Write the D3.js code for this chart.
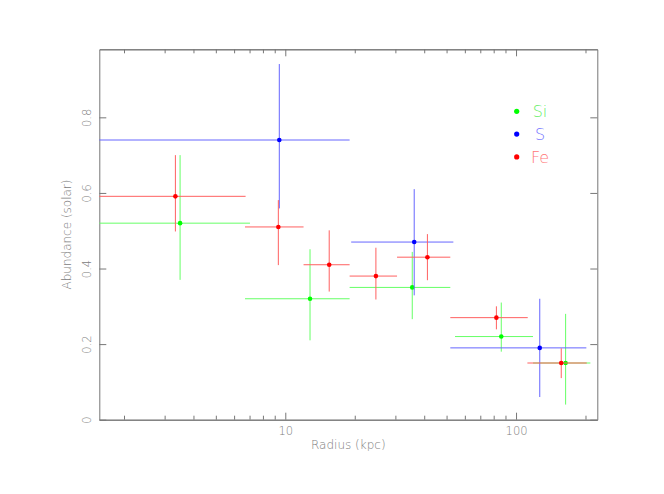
<!DOCTYPE html>
<html>
<head>
<meta charset="utf-8">
<script src="https://cdn.jsdelivr.net/npm/d3@7"></script>
<style>
  body { margin: 0; background: #fff; }
  svg text { font-family: "DejaVu Sans", sans-serif; font-weight: 200; }
</style>
</head>
<body>
<svg width="664" height="494"></svg>
<script>
// radius (kpc), bin edges and abundance with error range, per element
const siR = [3.50, 12.8, 35.5, 86.3, 164];
const siRLo = [1.2, 6.69, 19.0, 54.4, 118.5];
const siRHi = [7.03, 19.0, 51.9, 118.5, 210];
const siA = [0.52, 0.32, 0.35, 0.22, 0.15];
const siLo = [0.37, 0.21, 0.266, 0.18, 0.04];
const siHi = [0.70, 0.451, 0.444, 0.31, 0.28];

const sR = [9.42, 36.2, 126.7];
const sRLo = [1.2, 19.3, 51.9];
const sRHi = [19.0, 53.5, 201.7];
const sA = [0.74, 0.47, 0.19];
const sLo = [0.559, 0.329, 0.06];
const sHi = [0.941, 0.61, 0.32];

const feR = [3.34, 9.33, 15.5, 24.7, 41.3, 82.2, 157];
const feRLo = [1.2, 6.69, 12.0, 19.0, 30.5, 51.9, 112];
const feRHi = [6.73, 12.0, 19.0, 30.5, 51.9, 112.4, 202.5];
const feA = [0.591, 0.51, 0.41, 0.38, 0.43, 0.27, 0.15];
const feLo = [0.498, 0.409, 0.339, 0.318, 0.369, 0.239, 0.11];
const feHi = [0.70, 0.581, 0.501, 0.455, 0.491, 0.30, 0.189];

const xMajor = [10, 100];
const xMinor = [2, 3, 4, 5, 6, 7, 8, 9, 20, 30, 40, 50, 60, 70, 80, 90, 200];
const yTicks = [0, 0.2, 0.4, 0.6, 0.8];
const yTickLabels = ['0', '0.2', '0.4', '0.6', '0.8'];

const series = [
  {name: 'Si', r: siR, rlo: siRLo, rhi: siRHi, a: siA, lo: siLo, hi: siHi,
   dot: '#00ff00', bar: '#66ff66', text: '#66ee66'},
  {name: 'S', r: sR, rlo: sRLo, rhi: sRHi, a: sA, lo: sLo, hi: sHi,
   dot: '#0000ff', bar: '#6666ff', text: '#7777ff'},
  {name: 'Fe', r: feR, rlo: feRLo, rhi: feRHi, a: feA, lo: feLo, hi: feHi,
   dot: '#ff0000', bar: '#ff6060', text: '#ff7777'}
];

const svg = d3.select('svg');
const pLeft = 99.3, pRight = 597.3, pTop = 49.3, pBottom = 419.7;
const axisColor = '#777';
const labelColor = '#808080';

const x = d3.scaleLog().domain([1.563, 225]).range([pLeft, pRight]);
const y = d3.scaleLinear().domain([0, 0.98]).range([pBottom, pTop]);

svg.append('defs').append('clipPath').attr('id', 'plot-clip')
  .append('rect')
  .attr('x', pLeft).attr('y', pTop)
  .attr('width', pRight - pLeft).attr('height', pBottom - pTop);

// axes: major + minor, ticks pointing inward on all four sides
const styleAxis = g => {
  g.select('.domain').attr('stroke', axisColor);
  g.selectAll('.tick line').attr('stroke', axisColor);
  g.selectAll('.tick text').attr('fill', labelColor).attr('font-size', 11.5);
};

svg.append('g')
  .attr('transform', `translate(0,${pBottom})`)
  .call(d3.axisBottom(x).tickValues(xMajor).tickFormat(d3.format('d'))
    .tickSizeInner(-7).tickSizeOuter(0).tickPadding(7))
  .call(styleAxis);
svg.append('g')
  .attr('transform', `translate(0,${pBottom})`)
  .call(d3.axisBottom(x).tickValues(xMinor).tickFormat('')
    .tickSizeInner(-4).tickSizeOuter(0))
  .call(styleAxis);
svg.append('g')
  .attr('transform', `translate(0,${pTop})`)
  .call(d3.axisTop(x).tickValues(xMajor).tickFormat('')
    .tickSizeInner(-7).tickSizeOuter(0))
  .call(styleAxis);
svg.append('g')
  .attr('transform', `translate(0,${pTop})`)
  .call(d3.axisTop(x).tickValues(xMinor).tickFormat('')
    .tickSizeInner(-4).tickSizeOuter(0))
  .call(styleAxis);

const yLeft = svg.append('g')
  .attr('transform', `translate(${pLeft},0)`)
  .call(d3.axisLeft(y).tickValues(yTicks).tickFormat((d, i) => yTickLabels[i])
    .tickSizeInner(-7).tickSizeOuter(0).tickPadding(8))
  .call(styleAxis);
// vertical tick labels, read bottom to top
yLeft.selectAll('.tick text')
  .attr('x', null).attr('dy', null)
  .attr('text-anchor', 'middle')
  .attr('transform', 'translate(-8,0) rotate(-90)');

svg.append('g')
  .attr('transform', `translate(${pRight},0)`)
  .call(d3.axisRight(y).tickValues(yTicks).tickFormat('')
    .tickSizeInner(-7).tickSizeOuter(0))
  .call(styleAxis);

svg.append('text')
  .attr('x', (pLeft + pRight) / 2).attr('y', 449)
  .attr('text-anchor', 'middle')
  .attr('fill', labelColor).attr('font-size', 12)
  .text('Radius (kpc)');

svg.append('text')
  .attr('transform', `translate(71,${(pTop + pBottom) / 2}) rotate(-90)`)
  .attr('text-anchor', 'middle')
  .attr('fill', labelColor).attr('font-size', 12)
  .text('Abundance (solar)');

// error bars and points
const plot = svg.append('g').attr('clip-path', 'url(#plot-clip)');

series.forEach(s => {
  const rows = s.r.map((r, i) => ({
    r, rlo: s.rlo[i], rhi: s.rhi[i], a: s.a[i], lo: s.lo[i], hi: s.hi[i]
  }));
  const g = plot.append('g');
  g.selectAll('.hbar').data(rows).enter().append('line')
    .attr('class', 'hbar')
    .attr('x1', d => x(d.rlo)).attr('x2', d => x(d.rhi))
    .attr('y1', d => y(d.a)).attr('y2', d => y(d.a))
    .attr('stroke', s.bar).attr('stroke-width', 1);
  g.selectAll('.vbar').data(rows).enter().append('line')
    .attr('class', 'vbar')
    .attr('x1', d => x(d.r)).attr('x2', d => x(d.r))
    .attr('y1', d => y(d.lo)).attr('y2', d => y(d.hi))
    .attr('stroke', s.bar).attr('stroke-width', 1);
  g.selectAll('.pt').data(rows).enter().append('circle')
    .attr('class', 'pt')
    .attr('cx', d => x(d.r)).attr('cy', d => y(d.a))
    .attr('r', 2.3)
    .attr('fill', s.dot);
});

// legend
const legend = svg.append('g');
series.forEach((s, i) => {
  const ly = 111.3 + i * 22.8;
  legend.append('circle')
    .attr('cx', 516.7).attr('cy', ly).attr('r', 2.6).attr('fill', s.dot);
  legend.append('text')
    .attr('x', 540).attr('y', ly)
    .attr('dy', '0.36em')
    .attr('text-anchor', 'middle')
    .attr('fill', s.text).attr('font-size', 16)
    .text(s.name);
});
</script>
</body>
</html>
